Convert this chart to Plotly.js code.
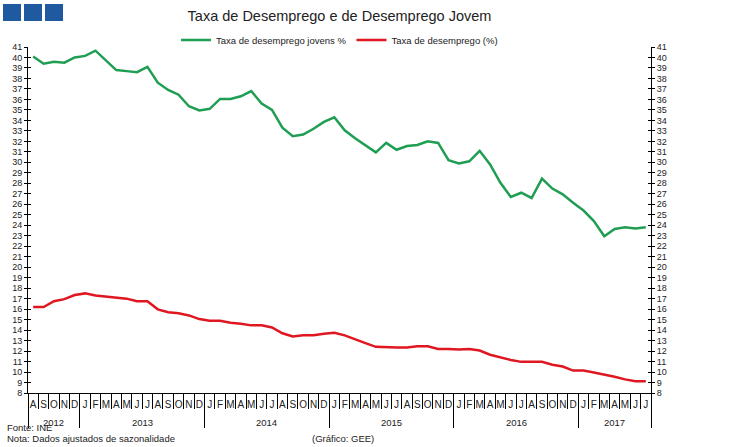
<!DOCTYPE html>
<html>
<head>
<meta charset="utf-8">
<script src="https://cdn.plot.ly/plotly-3.0.1.min.js"></script>
<style>
html,body{margin:0;padding:0;background:#fff;}
#chart{width:750px;height:447px;}
</style>
</head>
<body>
<div id="chart"></div>
<script>
// ---- Data (Aug 2012 .. Jul 2017) ----
var monthLetters = ['A','S','O','N','D',
  'J','F','M','A','M','J','J','A','S','O','N','D',
  'J','F','M','A','M','J','J','A','S','O','N','D',
  'J','F','M','A','M','J','J','A','S','O','N','D',
  'J','F','M','A','M','J','J','A','S','O','N','D',
  'J','F','M','A','M','J','J'];
var yearLabels = ['2012','2013','2014','2015','2016','2017'];
var yearStartIdx = [0,5,17,29,41,53];
var nMonths = 60;

var youthRate = [40.1,39.4,39.6,39.5,40.0,40.15,40.65,39.7,38.8,38.7,38.6,39.1,
  37.6,36.9,36.45,35.35,34.95,35.1,36.05,36.05,36.3,36.8,35.6,35.0,
  33.3,32.5,32.65,33.2,33.85,34.3,33.05,32.3,31.65,30.95,31.85,31.2,
  31.55,31.65,32.0,31.85,30.2,29.9,30.1,31.1,29.8,28.05,26.7,27.1,
  26.6,28.45,27.5,26.95,26.15,25.4,24.4,22.95,23.65,23.8,23.7,23.8];
var totalRate = [16.2,16.2,16.75,16.95,17.35,17.5,17.3,17.2,17.15,17.0,16.75,16.75,
  15.98,15.7,15.6,15.4,15.05,14.9,14.9,14.7,14.6,14.45,14.45,14.25,
  13.7,13.4,13.5,13.5,13.65,13.75,13.5,13.1,12.75,12.4,12.35,12.35,
  12.35,12.45,12.45,12.2,12.2,12.15,12.2,12.05,11.65,11.38,11.15,10.97,
  10.97,10.97,10.7,10.52,10.14,10.14,9.95,9.78,9.55,9.3,9.13,9.13];

var seriesNames = ['Taxa de desemprego jovens %','Taxa de desemprego (%)'];

// ---- derived positions ----
var xCenters = monthLetters.map(function(_,i){return i+0.5;});
var monthBounds = [];
for (var i=0;i<=nMonths;i++){ if (yearStartIdx.indexOf(i)<0 && i!==nMonths) monthBounds.push(i); }
var yearBounds = yearStartIdx.concat([nMonths]);
var yearCenters = yearStartIdx.map(function(s,k){return (s+yearBounds[k+1])/2;});
var yTicks = []; for (var v=8; v<=41; v++) yTicks.push(v);

var FONT = 'Liberation Sans, Arial, sans-serif';
var L=28, R=651, T=47, B=393, W=750, H=447;
function px(x){return (x-L)/(R-L);}
function py(y){return (B-y)/(B-T);}

var traces = [
  {x:xCenters, y:youthRate, name:seriesNames[0], type:'scatter', mode:'lines',
   line:{color:'#1f9e53', width:2.5}, xaxis:'x', yaxis:'y', hoverinfo:'skip'},
  {x:xCenters, y:totalRate, name:seriesNames[1], type:'scatter', mode:'lines',
   line:{color:'#e01620', width:2.5}, xaxis:'x', yaxis:'y', hoverinfo:'skip'}
];
// invisible copies so that the overlay axes (separators, crossing ticks, right axis) are drawn
[['x2','y'],['x3','y'],['x','y2'],['x','y3'],['x','y4']].forEach(function(p){
  traces.push({x:xCenters, y:totalRate, type:'scatter', mode:'lines', line:{color:'rgba(0,0,0,0)', width:0},
    xaxis:p[0], yaxis:p[1], showlegend:false, hoverinfo:'skip'});
});

var annotations = yearLabels.map(function(t,k){
  return {text:t, xref:'x', yref:'paper', x:yearCenters[k], y:py(422), xanchor:'center', yanchor:'middle',
    showarrow:false, font:{family:FONT, size:9.5, color:'#222'}};
});
annotations.push({text:'Fonte: INE', xref:'paper', yref:'paper', x:px(5), y:py(427), xanchor:'left', yanchor:'middle', showarrow:false, font:{family:FONT,size:9.5,color:'#222'}});
annotations.push({text:'Nota: Dados ajustados de sazonalidade', xref:'paper', yref:'paper', x:px(5), y:py(438), xanchor:'left', yanchor:'middle', showarrow:false, font:{family:FONT,size:9.5,color:'#222'}});
annotations.push({text:'(Gráfico: GEE)', xref:'paper', yref:'paper', x:px(376), y:py(438), xanchor:'right', yanchor:'middle', showarrow:false, font:{family:FONT,size:9.5,color:'#222'}});

var shapes = [];
[[3,21],[24,42],[45,63]].forEach(function(s){
  shapes.push({type:'rect', xref:'paper', yref:'paper', x0:px(s[0]), x1:px(s[1]), y0:py(4), y1:py(21),
    fillcolor:'#1f5aa0', line:{width:0}});
});

var axBase = {showgrid:false, zeroline:false, fixedrange:true};
var yCommon = Object.assign({}, axBase, {range:[8,41], tickvals:yTicks, ticktext:yTicks.map(String),
  tickfont:{family:FONT,size:9,color:'#222'}, tickcolor:'#000', tickwidth:1, ticklen:3});

var layout = {
  width:W, height:H,
  margin:{l:L, r:W-R, t:T, b:H-B, pad:0},
  paper_bgcolor:'#fff', plot_bgcolor:'#fff',
  title:{text:'Taxa de Desemprego e de Desemprego Jovem', x:0.5, xref:'paper', xanchor:'center',
    y:1-16/H, yref:'container', yanchor:'middle', font:{family:FONT,size:14.5,color:'#222'}},
  showlegend:true,
  legend:{orientation:'h', x:0.5, xanchor:'center', y:py(40), yanchor:'middle', font:{family:FONT,size:9.5,color:'#222'},
    bgcolor:'rgba(0,0,0,0)', itemwidth:30, tracegroupgap:0},
  xaxis:Object.assign({}, axBase, {range:[0,nMonths], tickvals:xCenters, ticktext:monthLetters, ticks:'',
    tickfont:{family:FONT,size:10,color:'#222'}, showline:true, linecolor:'#000', linewidth:1, anchor:'y', ticklabelstandoff:2}),
  xaxis2:Object.assign({}, axBase, {range:[0,nMonths], overlaying:'x', anchor:'y', side:'bottom', tickvals:monthBounds,
    ticks:'outside', ticklen:15, tickcolor:'#000', tickwidth:1, showticklabels:false, showline:false}),
  xaxis3:Object.assign({}, axBase, {range:[0,nMonths], overlaying:'x', anchor:'y', side:'bottom', tickvals:yearBounds,
    ticks:'outside', ticklen:34, tickcolor:'#000', tickwidth:1, showticklabels:false, showline:false}),
  yaxis:Object.assign({}, yCommon, {side:'left', ticks:'outside', showline:true, linecolor:'#000', linewidth:1, anchor:'x'}),
  yaxis2:Object.assign({}, yCommon, {side:'left', overlaying:'y', anchor:'x', ticks:'inside', showticklabels:false, showline:false}),
  yaxis3:Object.assign({}, yCommon, {side:'right', overlaying:'y', anchor:'x', ticks:'outside', showline:true, linecolor:'#000', linewidth:1}),
  yaxis4:Object.assign({}, yCommon, {side:'right', overlaying:'y', anchor:'x', ticks:'inside', showticklabels:false, showline:false}),
  annotations:annotations,
  shapes:shapes
};

Plotly.newPlot('chart', traces, layout, {staticPlot:true, displayModeBar:false});
</script>
</body>
</html>
